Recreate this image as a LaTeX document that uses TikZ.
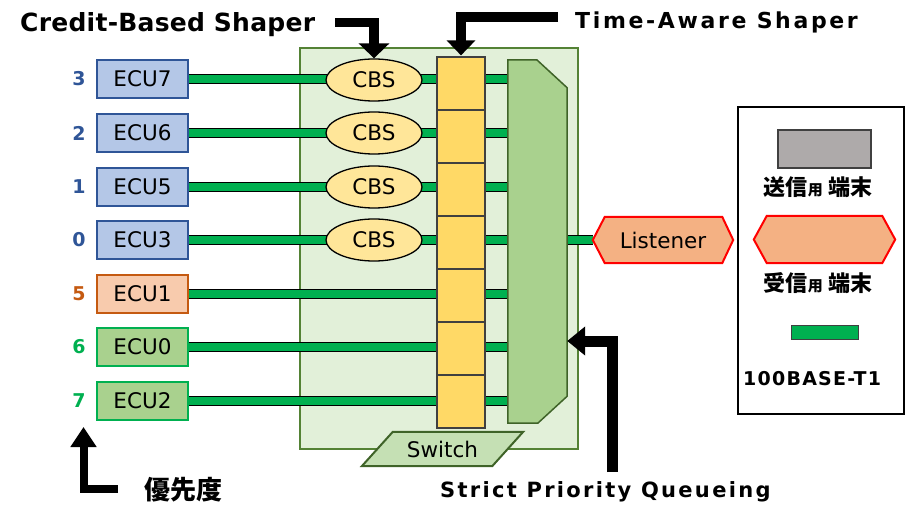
\documentclass[tikz,border=0pt]{standalone}
\usepackage{fontspec}
\setmainfont{DejaVu Sans}
\newfontfamily\jp{Noto Sans CJK JP}
\newfontfamily\numfont{DejaVu Sans Bold}
\newfontfamily\hdA[LetterSpace=1]{DejaVu Sans Bold}
\newfontfamily\hdB[LetterSpace=12]{DejaVu Sans Bold}
\newfontfamily\hdC[LetterSpace=11]{DejaVu Sans Bold}
\newfontfamily\hdD[LetterSpace=6.5]{DejaVu Sans Bold}
\usetikzlibrary{arrows.meta,calc,shapes.geometric}
\definecolor{swF}{HTML}{E2F0D9}
\definecolor{swB}{HTML}{548235}
\definecolor{bF}{HTML}{B4C7E7}
\definecolor{bB}{HTML}{2F5597}
\definecolor{oF}{HTML}{F8CBAD}
\definecolor{oB}{HTML}{C55A11}
\definecolor{gF}{HTML}{A9D18E}
\definecolor{gB}{HTML}{00B050}
\definecolor{wireG}{HTML}{00B050}
\definecolor{cbsF}{HTML}{FFE699}
\definecolor{tasF}{HTML}{FFD966}
\definecolor{dk}{HTML}{404040}
\definecolor{muxB}{HTML}{3F6328}
\definecolor{plF}{HTML}{C5E0B4}
\definecolor{hexF}{HTML}{F4B183}
\definecolor{grayF}{HTML}{AEAAAA}
\begin{document}
\begin{tikzpicture}[x=1pt,y=-1pt,
  font=\fontsize{21.5}{25}\selectfont,
  ecubox/.style={rectangle, draw=#1, line width=2.2pt, minimum width=91pt, minimum height=38pt, inner sep=0pt},
  numlbl/.style={text=#1, font=\numfont\fontsize{19}{22}\selectfont, inner sep=0pt},
  wire/.style={draw=black, line width=1.5pt, double=wireG, double distance=7.5pt},
  cbsnode/.style={ellipse, draw=black, line width=1.3pt, fill=cbsF, minimum width=96pt, minimum height=42pt, inner sep=0pt},
  tascell/.style={rectangle, draw=dk, line width=1.2pt, fill=tasF, minimum width=48pt, minimum height=53pt, inner sep=0pt},
  ghost/.style={rectangle, inner sep=0pt},
  hexshape/.style={draw=red, line width=2pt, fill=hexF, line join=miter},
  jplbl/.style={font=\jp\bfseries\fontsize{22}{26}\selectfont, inner sep=0pt},
  head/.style={inner sep=0pt, anchor=base west}
]
\path[use as bounding box] (0,0) rectangle (913,505);

% switch box
\node[rectangle, draw=swB, fill=swF, line width=2pt, minimum width=278pt, minimum height=401pt, inner sep=0pt] (sw) at (439,248.5) {};

% mux placeholder
\node[ghost, minimum width=59pt, minimum height=363pt] (mux) at (537.5,241.5) {};

% ECUs
\node[ecubox=bB, fill=bF] (e7) at (142.5,79) {ECU7};
\node[ecubox=bB, fill=bF] (e6) at (142.5,133) {ECU6};
\node[ecubox=bB, fill=bF] (e5) at (142.5,187) {ECU5};
\node[ecubox=bB, fill=bF] (e3) at (142.5,240) {ECU3};
\node[ecubox=oB, fill=oF] (e1) at (142.5,294) {ECU1};
\node[ecubox=gB, fill=gF] (e0) at (142.5,347) {ECU0};
\node[ecubox=gB, fill=gF] (e2) at (142.5,401) {ECU2};

% priority numbers
\node[numlbl=bB] (n3) at (79,79) {3};
\node[numlbl=bB] (n2) at (79,133) {2};
\node[numlbl=bB] (n1) at (79,187) {1};
\node[numlbl=bB] (n0) at (79,240) {0};
\node[numlbl=oB] (n5) at (79,294) {5};
\node[numlbl=gB] (n6) at (79,347) {6};
\node[numlbl=gB] (n7) at (79,401) {7};

% listener placeholder
\path node[ghost, minimum width=140pt, minimum height=46pt] (lis) at (663,240) {};

% wires
\foreach \e in {e7,e6,e5,e3,e1,e0,e2}{
  \draw[wire] (\e.east) -- (\e.east -| mux.west);
}
\draw[wire] (mux.east |- lis.west) -- (lis.west);

% CBS
\node[cbsnode] (c7) at (374,80) {CBS};
\node[cbsnode] (c6) at (374,133) {CBS};
\node[cbsnode] (c5) at (374,187) {CBS};
\node[cbsnode] (c3) at (374,240) {CBS};

% TAS cells
\foreach \i in {1,...,7}{
  \node[tascell] (t\i) at (461,{83.5+53*(\i-1)}) {};
}

% mux polygon
\draw[muxB, line width=1.5pt, fill=gF, line join=miter]
  (mux.north west) -- ($(mux.north west)+(29,0)$) -- ($(mux.north east)+(0,28)$)
  -- ($(mux.south east)+(0,-27)$) -- ($(mux.south west)+(30,0)$) -- (mux.south west) -- cycle;

% switch label
\path node[ghost, minimum width=161pt, minimum height=34pt] (swl) at (442.5,449) {};
\draw[muxB, line width=2pt, fill=plF, line join=miter]
  ($(swl.north west)+(31,0)$) -- (swl.north east) -- ($(swl.south east)+(-31,0)$) -- (swl.south west) -- cycle;
\node[inner sep=0pt] (swt) at (swl) {Switch};

% listener hexagon
\draw[hexshape] (lis.west) -- ($(lis.north west)+(12,0)$) -- ($(lis.north east)+(-11,0)$) -- (lis.east)
  -- ($(lis.south east)+(-11,0)$) -- ($(lis.south west)+(12,0)$) -- cycle;
\node[inner sep=0pt] (list) at (lis) {Listener};

% legend
\node[rectangle, draw=black, line width=2.2pt, minimum width=166pt, minimum height=307pt, inner sep=0pt] (leg) at (821,260.5) {};
\node[rectangle, draw=dk, line width=2.5pt, fill=grayF, minimum width=93pt, minimum height=38pt, inner sep=0pt] (lgs) at (824.5,149) {};
\node[jplbl] (lgst) at (818,187) {送信{\fontsize{15}{18}\selectfont 用} 端末};
\path node[ghost, minimum width=141pt, minimum height=47pt] (lgh) at (824.5,239.5) {};
\draw[hexshape] (lgh.west) -- ($(lgh.north west)+(13,0)$) -- ($(lgh.north east)+(-13,0)$) -- (lgh.east)
  -- ($(lgh.south east)+(-13,0)$) -- ($(lgh.south west)+(13,0)$) -- cycle;
\node[jplbl] (lght) at (818,283) {受信{\fontsize{15}{18}\selectfont 用} 端末};
\node[rectangle, draw=dk, line width=1pt, fill=wireG, minimum width=67pt, minimum height=14pt, inner sep=0pt] (lgw) at (824.5,332) {};
\node[head, font=\hdD\fontsize{19}{22}\selectfont] (lgwt) at (743,385) {100BASE-T1};

% headings
\node[head, font=\hdA\fontsize{25}{28}\selectfont] (hcbs) at (20,31.5) {Credit-Based Shaper};
\node[head, font=\hdB\fontsize{22}{26}\selectfont] (htas) at (575,28.3) {Time-Aware Shaper};
\node[head, font=\hdC\fontsize{21}{24}\selectfont] (hspq) at (440,497) {Strict Priority Queueing};
\node[font=\jp\bfseries\fontsize{26}{30}\selectfont, inner sep=0pt] (hpri) at (183,490) {優先度};

% arrows
\coordinate (cbsA) at (335,22.5);
\draw[line width=9.5pt, line join=miter, -{Triangle[width=30pt,length=15pt]}]
  (cbsA) -- (c7.north |- cbsA) -- (c7.north);
\coordinate (tasA) at (558,17);
\draw[line width=10pt, line join=miter, -{Triangle[width=28pt,length=15pt]}]
  (tasA) -- (t1.north |- tasA) -- ($(t1.north)+(0,-1)$);
\coordinate (spqA) at (612,472);
\coordinate (spqB) at (612,341);
\draw[line width=11pt, line join=miter, -{Triangle[width=28pt,length=18pt]}]
  (spqA) -- (spqB) -- (mux.east |- spqB);
\coordinate (prA) at (118,489);
\coordinate (prT) at (83.5,427);
\draw[line width=8pt, line join=miter, -{Triangle[width=25pt,length=20pt]}]
  (prA) -- (prT |- prA) -- (prT);
\end{tikzpicture}
\end{document}
